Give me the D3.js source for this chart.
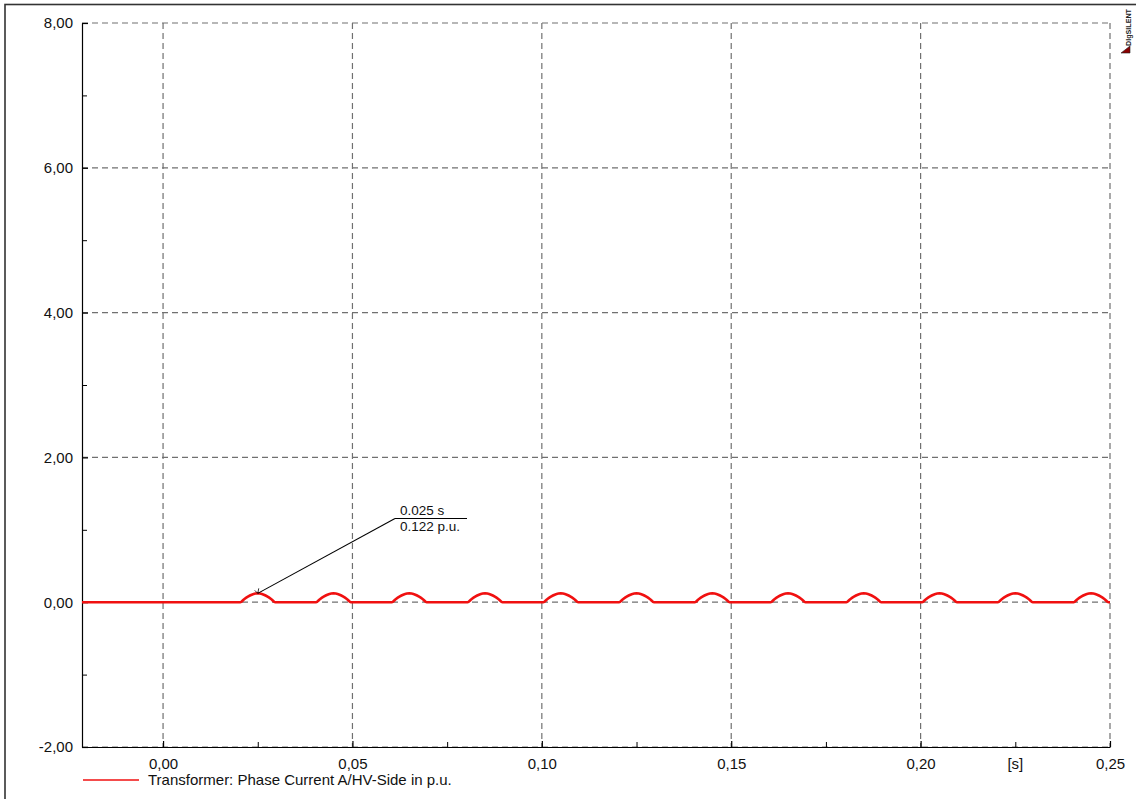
<!DOCTYPE html>
<html>
<head>
<meta charset="utf-8">
<script src="https://cdn.jsdelivr.net/npm/d3@7"></script>
<style>
  html, body { margin: 0; padding: 0; background: #fff; }
  svg { display: block; }
  text { font-family: "Liberation Sans", Arial, sans-serif; }
</style>
</head>
<body>
<svg id="chart" width="1136" height="799"></svg>
<script>
// ---- data ----
const xTicks = [0, 0.05, 0.10, 0.15, 0.20, 0.25];
const xMinorTicks = [0.025, 0.075, 0.125, 0.175, 0.225];
const xTickLabels = ["0,00", "0,05", "0,10", "0,15", "0,20", "0,25"];
const xUnitLabel = "[s]";
const yTicks = [-2, 0, 2, 4, 6, 8];
const yMinorTicks = [-1, 1, 3, 5, 7];
const yTickLabels = ["-2,00", "0,00", "2,00", "4,00", "6,00", "8,00"];

const timeS = [
  -0.0214,
  0.0204, 0.0214, 0.0224, 0.0234, 0.0244, 0.0250, 0.0256, 0.0266, 0.0276, 0.0286, 0.0296,
  0.0404, 0.0414, 0.0424, 0.0434, 0.0444, 0.0450, 0.0456, 0.0466, 0.0476, 0.0486, 0.0496,
  0.0604, 0.0614, 0.0624, 0.0634, 0.0644, 0.0650, 0.0656, 0.0666, 0.0676, 0.0686, 0.0696,
  0.0804, 0.0814, 0.0824, 0.0834, 0.0844, 0.0850, 0.0856, 0.0866, 0.0876, 0.0886, 0.0896,
  0.1004, 0.1014, 0.1024, 0.1034, 0.1044, 0.1050, 0.1056, 0.1066, 0.1076, 0.1086, 0.1096,
  0.1204, 0.1214, 0.1224, 0.1234, 0.1244, 0.1250, 0.1256, 0.1266, 0.1276, 0.1286, 0.1296,
  0.1404, 0.1414, 0.1424, 0.1434, 0.1444, 0.1450, 0.1456, 0.1466, 0.1476, 0.1486, 0.1496,
  0.1604, 0.1614, 0.1624, 0.1634, 0.1644, 0.1650, 0.1656, 0.1666, 0.1676, 0.1686, 0.1696,
  0.1804, 0.1814, 0.1824, 0.1834, 0.1844, 0.1850, 0.1856, 0.1866, 0.1876, 0.1886, 0.1896,
  0.2004, 0.2014, 0.2024, 0.2034, 0.2044, 0.2050, 0.2056, 0.2066, 0.2076, 0.2086, 0.2096,
  0.2204, 0.2214, 0.2224, 0.2234, 0.2244, 0.2250, 0.2256, 0.2266, 0.2276, 0.2286, 0.2296,
  0.2404, 0.2414, 0.2424, 0.2434, 0.2444, 0.2450, 0.2456, 0.2466, 0.2476, 0.2486, 0.2496,
  0.2500
];
const currentPU = [
  0,
  0, 0.041, 0.077, 0.104, 0.119, 0.122, 0.119, 0.104, 0.077, 0.041, 0,
  0, 0.041, 0.077, 0.104, 0.119, 0.122, 0.119, 0.104, 0.077, 0.041, 0,
  0, 0.041, 0.077, 0.104, 0.119, 0.122, 0.119, 0.104, 0.077, 0.041, 0,
  0, 0.041, 0.077, 0.104, 0.119, 0.122, 0.119, 0.104, 0.077, 0.041, 0,
  0, 0.041, 0.077, 0.104, 0.119, 0.122, 0.119, 0.104, 0.077, 0.041, 0,
  0, 0.041, 0.077, 0.104, 0.119, 0.122, 0.119, 0.104, 0.077, 0.041, 0,
  0, 0.041, 0.077, 0.104, 0.119, 0.122, 0.119, 0.104, 0.077, 0.041, 0,
  0, 0.041, 0.077, 0.104, 0.119, 0.122, 0.119, 0.104, 0.077, 0.041, 0,
  0, 0.041, 0.077, 0.104, 0.119, 0.122, 0.119, 0.104, 0.077, 0.041, 0,
  0, 0.041, 0.077, 0.104, 0.119, 0.122, 0.119, 0.104, 0.077, 0.041, 0,
  0, 0.041, 0.077, 0.104, 0.119, 0.122, 0.119, 0.104, 0.077, 0.041, 0,
  0, 0.041, 0.077, 0.104, 0.119, 0.122, 0.119, 0.104, 0.077, 0.041, 0,
  0
];
const seriesName = "Transformer: Phase Current A/HV-Side in p.u.";
const markerTime = 0.025;
const markerValue = 0.122;
const markerLabels = ["0.025 s", "0.122 p.u."];
const logoText = "DIgSILENT";

// ---- layout ----
const svg = d3.select("#chart");
const x = d3.scaleLinear().domain([-0.0214, 0.25]).range([82, 1110]);
const y = d3.scaleLinear().domain([-2, 8]).range([747, 23]);
const FONT = "Liberation Sans, Arial, sans-serif";
const FS = 15;

// outer frame
svg.append("rect").attr("x", 5).attr("y", 4.5).attr("width", 1140).attr("height", 800)
  .attr("fill", "none").attr("stroke", "#333").attr("stroke-width", 1.6);

// grid
const grid = svg.append("g").attr("stroke", "#707070").attr("stroke-width", 1.2)
  .attr("stroke-dasharray", "6,4").attr("fill", "none");
grid.selectAll("line.h").data(yTicks).join("line").attr("class", "h")
  .attr("x1", x.range()[0]).attr("x2", x.range()[1])
  .attr("y1", d => y(d)).attr("y2", d => y(d));
grid.selectAll("line.v").data(xTicks).join("line").attr("class", "v")
  .attr("x1", d => x(d)).attr("x2", d => x(d))
  .attr("y1", y.range()[1]).attr("y2", y.range()[0]);

// y axis
const yAxis = svg.append("g").attr("transform", `translate(${x.range()[0]},0)`)
  .call(d3.axisLeft(y).tickValues(yTicks)
    .tickFormat(d => yTickLabels[yTicks.indexOf(d)])
    .tickSizeInner(-6).tickSizeOuter(0).tickPadding(9));
yAxis.selectAll("text").attr("font-family", FONT).attr("font-size", FS).attr("fill", "#111");
yAxis.selectAll("path,line").attr("stroke", "#000").attr("stroke-width", 1.2);
svg.append("g").attr("transform", `translate(${x.range()[0]},0)`)
  .call(d3.axisLeft(y).tickValues(yMinorTicks).tickFormat("").tickSizeInner(-5).tickSizeOuter(0))
  .call(g => g.select(".domain").remove())
  .selectAll("line").attr("stroke", "#000");

// x axis
const xAxis = svg.append("g").attr("transform", `translate(0,${y.range()[0]})`)
  .call(d3.axisBottom(x).tickValues(xTicks)
    .tickFormat(d => xTickLabels[xTicks.indexOf(d)])
    .tickSizeInner(-6).tickSizeOuter(0).tickPadding(11));
xAxis.selectAll("text").attr("font-family", FONT).attr("font-size", FS).attr("fill", "#111");
xAxis.selectAll("path,line").attr("stroke", "#000").attr("stroke-width", 1.2);
svg.append("g").attr("transform", `translate(0,${y.range()[0]})`)
  .call(d3.axisBottom(x).tickValues(xMinorTicks).tickFormat("").tickSizeInner(-5).tickSizeOuter(0))
  .call(g => g.select(".domain").remove())
  .selectAll("line").attr("stroke", "#000");
svg.append("text").attr("x", x(0.225)).attr("y", y.range()[0] + 11).attr("dy", "0.71em")
  .attr("text-anchor", "middle").attr("font-size", FS).attr("fill", "#111").text(xUnitLabel);

// data line
const pts = timeS.map((t, i) => [t, currentPU[i]]);
svg.append("path").datum(pts)
  .attr("fill", "none").attr("stroke", "#f01010").attr("stroke-width", 2.6)
  .attr("d", d3.line().x(d => x(d[0])).y(d => y(d[1])).curve(d3.curveMonotoneX));

// annotation
const px = x(markerTime), py = y(markerValue);
const ax = 395, ay = 518.5;
svg.append("line").attr("x1", px).attr("y1", py).attr("x2", ax).attr("y2", ay)
  .attr("stroke", "#000").attr("stroke-width", 1.1);
svg.append("line").attr("x1", ax).attr("y1", ay).attr("x2", 467).attr("y2", ay)
  .attr("stroke", "#000").attr("stroke-width", 1.1);
svg.append("path").attr("d", `M${px - 3},${py - 3} L${px},${py} L${px + 1},${py - 5}`)
  .attr("fill", "none").attr("stroke", "#000").attr("stroke-width", 0.8);
svg.append("text").attr("x", 400).attr("y", 515).attr("font-size", 13.5).attr("fill", "#111").text(markerLabels[0]);
svg.append("text").attr("x", 400).attr("y", 530.5).attr("font-size", 13.5).attr("fill", "#111").text(markerLabels[1]);

// legend
svg.append("line").attr("x1", 83).attr("x2", 139).attr("y1", 780).attr("y2", 780)
  .attr("stroke", "#f01010").attr("stroke-width", 1.4);
svg.append("text").attr("x", 148).attr("y", 785).attr("font-size", FS).attr("fill", "#111").text(seriesName);

// logo
svg.append("text").attr("transform", "translate(1131,46) rotate(-90)")
  .attr("font-size", 7).attr("font-weight", "bold").attr("fill", "#222")
  .attr("textLength", 37).attr("lengthAdjust", "spacingAndGlyphs").text(logoText);
svg.append("path").attr("d", "M1121,53 L1130,53 L1130,46 Z")
  .attr("fill", "#8b0000").attr("stroke", "#222").attr("stroke-width", 0.6);
</script>
</body>
</html>
